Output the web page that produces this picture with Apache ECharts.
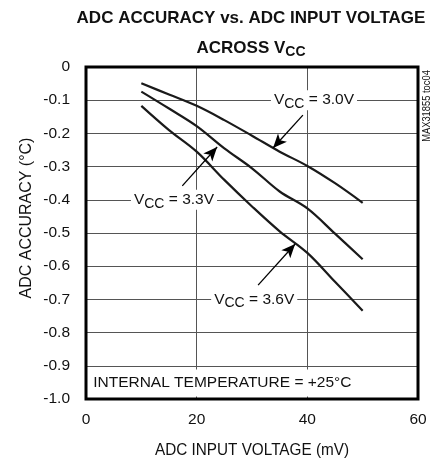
<!DOCTYPE html>
<html><head><meta charset="utf-8">
<script src="https://cdn.jsdelivr.net/npm/echarts@6/dist/echarts.min.js"></script>
<style>html,body{margin:0;padding:0;background:#fff}#c{width:440px;height:462px}</style>
</head><body><div id="c"></div>
<script>
// ---- data ----
const voltages = [10, 15, 20, 25, 30, 35, 40, 45, 50];
const vcc30 = [-0.049, -0.083, -0.117, -0.160, -0.207, -0.255, -0.298, -0.350, -0.409];
const vcc33 = [-0.074, -0.125, -0.178, -0.245, -0.305, -0.375, -0.426, -0.502, -0.579];
const vcc36 = [-0.117, -0.190, -0.255, -0.340, -0.420, -0.495, -0.560, -0.647, -0.734];
const xTickLabels = ['0', '20', '40', '60'];
const yTickLabels = ['-1.0', '-0.9', '-0.8', '-0.7', '-0.6', '-0.5', '-0.4', '-0.3', '-0.2', '-0.1', '0'];
const seriesNames = ['VCC = 3.0V', 'VCC = 3.3V', 'VCC = 3.6V'];
// annotation anchors (data space)
const labelAt = { v30: [41.2, -0.1], v33: [15.9, -0.4], v36: [30.4, -0.7], temp: [0.3, -0.952] };
const arrows = [
  [[39.2, -0.145], [33.8, -0.244]],
  [[17.4, -0.358], [23.7, -0.241]],
  [[31.1, -0.657], [37.8, -0.533]]
];

const FONT = "'Liberation Sans',Arial,sans-serif";
const INK = '#111';
const chart = echarts.init(document.getElementById('c'), null, { renderer: 'canvas' });

const richV = {
  a: { fontFamily: FONT, fontSize: 15.5, color: INK, lineHeight: 20 },
  s: { fontFamily: FONT, fontSize: 14, color: INK, lineHeight: 20, padding: [8, 0, 0, 0] }
};
function vccLabel(v) {
  return {
    show: true, position: 'inside', formatter: '{a|V}{s|CC}{a| = ' + v + '}',
    rich: richV, backgroundColor: '#fff', padding: [0, 3, 0, 3]
  };
}
function pair(ys) { return voltages.map((x, i) => [x, ys[i]]); }

const lineStyle = { color: '#1a1a1a', width: 2.2 };
const option = {
  animation: false,
  backgroundColor: '#fff',
  grid: { left: 86, right: 22, top: 67, bottom: 63, show: true, borderColor: '#000', borderWidth: 3, backgroundColor: 'transparent', z: 3 },
  xAxis: {
    type: 'value', min: 0, max: 60, interval: 20,
    axisLine: { show: false }, axisTick: { show: false },
    axisLabel: { margin: 13, fontFamily: FONT, fontSize: 15.5, color: INK,
      formatter: v => xTickLabels[Math.round(v / 20)] },
    splitLine: { show: true, showMinLine: false, showMaxLine: false, lineStyle: { color: '#555', width: 1 } }
  },
  yAxis: {
    type: 'value', min: -1, max: 0, interval: 0.1,
    axisLine: { show: false }, axisTick: { show: false },
    axisLabel: { margin: 16, fontFamily: FONT, fontSize: 15.5, color: INK,
      formatter: v => yTickLabels[Math.round((v + 1) * 10)] },
    splitLine: { show: true, showMinLine: false, showMaxLine: false, lineStyle: { color: '#555', width: 1 } }
  },
  series: [
    { name: seriesNames[0], type: 'line', smooth: 0.35, showSymbol: false, data: pair(vcc30), lineStyle, z: 4,
      markPoint: {
        symbol: 'rect', symbolSize: 1, itemStyle: { color: 'transparent' }, silent: true,
        data: [
          { coord: labelAt.v30, label: vccLabel('3.0V') },
          { coord: labelAt.v33, label: vccLabel('3.3V') },
          { coord: labelAt.v36, label: vccLabel('3.6V') },
          { coord: labelAt.temp, label: { show: true, position: 'right', distance: 0,
              formatter: 'INTERNAL TEMPERATURE = +25°C', fontFamily: FONT, fontSize: 15.5, color: INK,
              backgroundColor: '#fff', padding: [6, 4, 5, 5] } }
        ]
      },
      markLine: {
        silent: true, symbol: ['none', 'arrow'], symbolSize: [9, 14],
        lineStyle: { color: '#000', width: 1.3, type: 'solid' }, label: { show: false },
        data: arrows.map(a => [{ coord: a[0] }, { coord: a[1] }])
      }
    },
    { name: seriesNames[1], type: 'line', smooth: 0.35, showSymbol: false, data: pair(vcc33), lineStyle, z: 4 },
    { name: seriesNames[2], type: 'line', smooth: 0.35, showSymbol: false, data: pair(vcc36), lineStyle, z: 4 }
  ],
  graphic: [
    { type: 'text', x: 251, y: 18, style: { text: 'ADC ACCURACY vs. ADC INPUT VOLTAGE',
        font: 'bold 17px ' + FONT, fill: INK, align: 'center', verticalAlign: 'middle' } },
    { type: 'text', x: 251, y: 48, style: { text: '{b|ACROSS V}{c|CC}', align: 'center', verticalAlign: 'middle',
        rich: { b: { font: 'bold 17px ' + FONT, fill: INK, lineHeight: 20 },
                c: { font: 'bold 14px ' + FONT, fill: INK, lineHeight: 20, padding: [8, 0, 0, 0] } } } },
    { type: 'text', x: 252, y: 450, scaleX: 0.9, style: { text: 'ADC INPUT VOLTAGE (mV)', font: '17px ' + FONT, fill: INK,
        align: 'center', verticalAlign: 'middle' } },
    { type: 'text', x: 26, y: 218, rotation: Math.PI / 2, scaleX: 0.94, style: { text: 'ADC ACCURACY (°C)', font: '17px ' + FONT,
        fill: INK, align: 'center', verticalAlign: 'middle' } },
    { type: 'text', x: 427, y: 106, rotation: Math.PI / 2, scaleX: 0.85, style: { text: 'MAX31855 toc04', font: '11px ' + FONT,
        fill: INK, align: 'center', verticalAlign: 'middle' } }
  ]
};
chart.setOption(option);
</script></body></html>
